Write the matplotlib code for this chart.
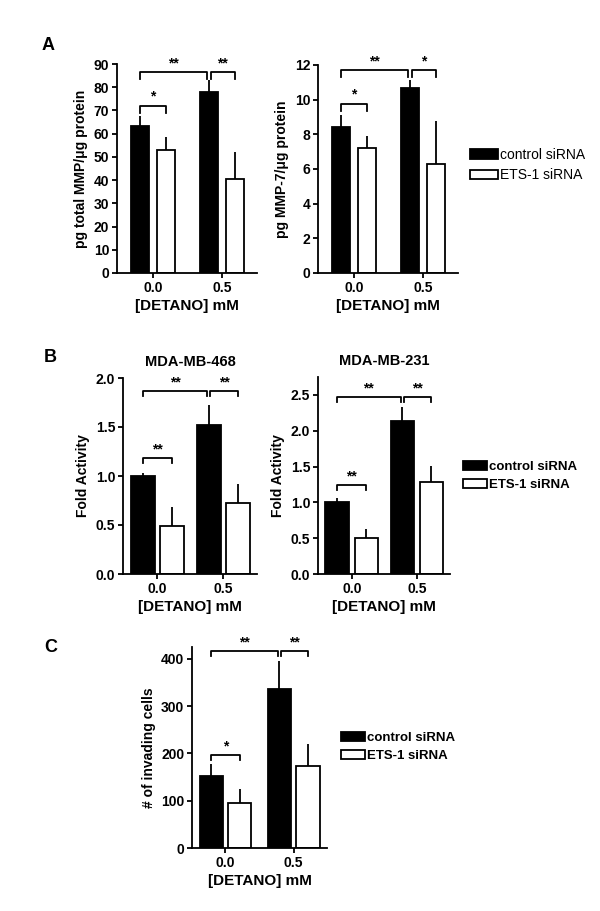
import numpy as np
import matplotlib
matplotlib.use('Agg')
from matplotlib import pyplot as plt

plt.rcParams['font.family'] = ['Liberation Sans', 'DejaVu Sans']
plt.rcParams['font.weight'] = 'bold'
plt.rcParams['axes.labelweight'] = 'bold'
plt.rcParams['axes.titleweight'] = 'bold'
plt.rcParams['axes.linewidth'] = 1.3

# data
groups = ['0.0', '0.5']
series = ['control siRNA', 'ETS-1 siRNA']

a1_ctrl = [63.5, 78.0]
a1_ctrl_err = [4.0, 5.0]
a1_ets = [53.0, 40.5]
a1_ets_err = [5.5, 11.5]

a2_ctrl = [8.45, 10.7]
a2_ctrl_err = [0.65, 0.45]
a2_ets = [7.2, 6.3]
a2_ets_err = [0.7, 2.45]

b1_ctrl = [1.0, 1.52]
b1_ctrl_err = [0.03, 0.2]
b1_ets = [0.49, 0.72]
b1_ets_err = [0.19, 0.2]

b2_ctrl = [1.0, 2.13]
b2_ctrl_err = [0.06, 0.2]
b2_ets = [0.5, 1.29]
b2_ets_err = [0.13, 0.22]

c_ctrl = [153, 337]
c_ctrl_err = [25, 58]
c_ets = [95, 174]
c_ets_err = [29, 46]

W, H = 600, 911
fig = plt.figure(figsize=(6, 9.11), dpi=100)


def px_axes(x0, x1, ytop, ybot):
    return fig.add_axes([x0 / W, 1 - ybot / H, (x1 - x0) / W, (ybot - ytop) / H])


def bracket(ax, xa, xb, y, h, label):
    ax.plot([xa, xa, xb, xb], [y - h, y, y, y - h], color='k', lw=1.3, clip_on=False)
    ax.text((xa + xb) / 2, y + h * 0.3, label, ha='center', va='bottom', fontsize=10)


def panel(ax, ctrl, ctrl_err, ets, ets_err, width, off, ylim, yticks, ylabel, sig, lfs=10):
    x = np.arange(len(groups))
    b1 = ax.bar(x - off, ctrl, width, color='k', edgecolor='k', lw=1.3, zorder=2)
    b2 = ax.bar(x + off, ets, width, color='w', edgecolor='k', lw=1.3, zorder=2)
    ax.errorbar(x - off, ctrl, yerr=[np.zeros(2), ctrl_err], fmt='none', ecolor='k', elinewidth=1.3, capsize=0, zorder=1)
    ax.errorbar(x + off, ets, yerr=[np.zeros(2), ets_err], fmt='none', ecolor='k', elinewidth=1.3, capsize=0, zorder=1)
    ax.set_xlim(-0.52, 1.51)
    ax.set_ylim(*ylim)
    ax.set_yticks(yticks)
    ax.set_xticks(x)
    ax.set_xticklabels(groups)
    for s in ['top', 'right']:
        ax.spines[s].set_visible(False)
    ax.tick_params(labelsize=10, width=1.3, length=3.5, pad=2)
    ax.set_ylabel(ylabel, fontsize=lfs, labelpad=4)
    ax.set_xlabel('[DETANO] mM', fontsize=11, labelpad=3)
    (ytop, ylow, h) = sig[:3]
    stars = sig[3]
    g = 0.025
    bracket(ax, -off, 1 - off - g, ytop, h, stars[0])
    bracket(ax, 1 - off + g, 1 + off, ytop, h, stars[1])
    bracket(ax, -off, off, ylow, h, stars[2])
    return [b1, b2]


def add_legend(ax, handles, x, y, weight, hl, fs):
    ax.legend(handles, series, loc='upper left', bbox_to_anchor=(x / W, 1 - y / H), bbox_transform=fig.transFigure,
              frameon=False, prop={'size': fs, 'weight': weight}, handlelength=hl, handleheight=0.7,
              handletextpad=0.15, labelspacing=0.45, borderaxespad=0, borderpad=0)


# panel A
ax = px_axes(117, 257, 64, 273)
panel(ax, a1_ctrl, a1_ctrl_err, a1_ets, a1_ets_err, 0.26, 0.185, (0, 90), range(0, 91, 10),
      'pg total MMP/μg protein', (86.5, 72, 3, ['**', '**', '*']))
ax = px_axes(318, 458, 65, 273)
h = panel(ax, a2_ctrl, a2_ctrl_err, a2_ets, a2_ets_err, 0.26, 0.185, (0, 12), range(0, 13, 2),
          'pg MMP-7/μg protein', (11.7, 9.75, 0.4, ['**', '*', '*']))
fig.text(42 / W, 1 - 46 / H, 'A', fontsize=13, ha='left', va='center')
add_legend(ax, h, 470, 148, 'normal', 2.0, 10)

# panel B
ax = px_axes(123, 257, 378, 574)
panel(ax, b1_ctrl, b1_ctrl_err, b1_ets, b1_ets_err, 0.37, 0.22, (0, 2.0), [0, 0.5, 1.0, 1.5, 2.0],
      'Fold Activity', (1.87, 1.18, 0.05, ['**', '**', '**']))
ax.set_yticklabels(['0.0', '0.5', '1.0', '1.5', '2.0'])
ax.set_title('MDA-MB-468', fontsize=10.5, pad=9)
ax = px_axes(318, 450, 377, 574)
h = panel(ax, b2_ctrl, b2_ctrl_err, b2_ets, b2_ets_err, 0.36, 0.225, (0, 2.75), [0, 0.5, 1.0, 1.5, 2.0, 2.5],
          'Fold Activity', (2.47, 1.24, 0.07, ['**', '**', '**']))
ax.set_yticklabels(['0.0', '0.5', '1.0', '1.5', '2.0', '2.5'])
ax.set_title('MDA-MB-231', fontsize=10.5, pad=9)
fig.text(44 / W, 1 - 357 / H, 'B', fontsize=13, ha='left', va='center')
add_legend(ax, h, 463, 461, 'bold', 1.8, 9.5)

# panel C
ax = px_axes(192, 327, 647, 848)
h = panel(ax, c_ctrl, c_ctrl_err, c_ets, c_ets_err, 0.34, 0.21, (0, 425), range(0, 401, 100),
          '# of invading cells', (417, 197, 11, ['**', '**', '*']))
ax.set_xlim(-0.49, 1.49)
fig.text(44 / W, 1 - 648 / H, 'C', fontsize=13, ha='left', va='center')
add_legend(ax, h, 341, 732, 'bold', 1.8, 9.5)

fig.savefig('out.png', dpi=100, facecolor='white')
